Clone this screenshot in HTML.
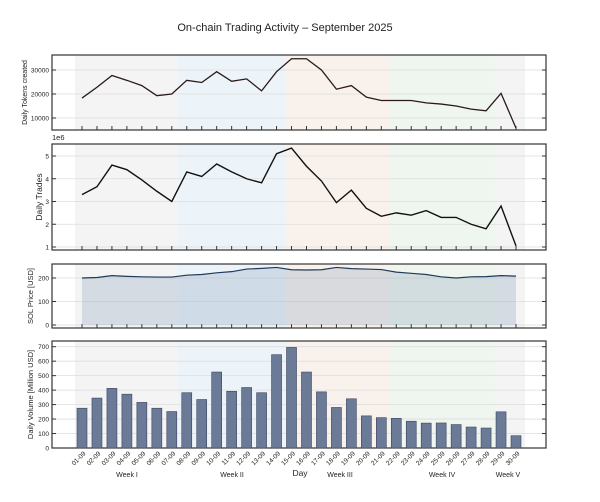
<!DOCTYPE html><html><head><meta charset="utf-8"><style>body{margin:0;background:#fff}svg{display:block}text{font-family:"Liberation Sans",sans-serif;fill:#222}</style></head><body>
<svg id="s" width="600" height="502" xmlns="http://www.w3.org/2000/svg"></svg>
<script>
const s=document.getElementById('s');let h='';
const L=52,R=546,X=i=>82+i*(434/29);
const tok=[18300,22800,27700,25700,23500,19300,20000,25700,24800,29300,25300,26300,21300,29300,34700,34700,30000,22000,23500,18700,17300,17300,17300,16300,15800,15000,13700,13000,20300,5800];
const tr=[3.3,3.65,4.6,4.4,3.95,3.45,3.0,4.3,4.1,4.65,4.3,4.0,3.82,5.1,5.35,4.55,3.9,2.95,3.5,2.7,2.35,2.5,2.4,2.6,2.3,2.3,2.0,1.8,2.8,1.05];
const pr=[200,202,210,207,205,204,204,212,215,222,227,238,241,245,235,234,235,245,240,238,236,225,220,215,205,200,205,206,210,208];
const vol=[275,345,412,372,315,275,252,382,335,525,392,418,382,645,695,525,388,280,340,222,210,205,185,172,173,162,145,138,250,85];
function bands(t,b){const bs=[[75,178,'#f4f4f4'],[178,285,'#edf4f9'],[285,390,'#f9f2ec'],[390,495,'#eff6f0'],[495,525,'#f4f4f4']];bs.forEach(c=>h+=`<rect x="${c[0]}" y="${t}" width="${c[1]-c[0]}" height="${b-t}" fill="${c[2]}"/>`);}
function panel(t,b,ticks,Y,label,ly,fs){bands(t,b);ticks.forEach(v=>{const y=Y(v);h+=`<line x1="${L}" x2="${R}" y1="${y}" y2="${y}" stroke="#ddd" stroke-width="0.8"/><line x1="${L}" x2="${L+4}" y1="${y}" y2="${y}" stroke="#333"/><line x1="${R-4}" x2="${R}" y1="${y}" y2="${y}" stroke="#333"/><text x="${L-3}" y="${y+2.5}" font-size="6.5" text-anchor="end">${v[1]}</text>`;});
for(let i=0;i<30;i++)h+=`<line x1="${X(i)}" x2="${X(i)}" y1="${b}" y2="${b-4}" stroke="#333"/>`;
h+=`<rect x="${L}" y="${t}" width="${R-L}" height="${b-t}" fill="none" stroke="#333" stroke-width="1.2"/>`;
h+=`<text transform="translate(${ly},${(t+b)/2}) rotate(-90)" font-size="${fs}" text-anchor="middle">${label}</text>`;}
h+=`<text x="285" y="31" font-size="11" text-anchor="middle">On-chain Trading Activity – September 2025</text>`;
let Y1=v=>70+(30000-v)*0.0024;
panel(55,130,[[30000,'30000'],[20000,'20000'],[10000,'10000']],a=>Y1(a[0]),'Daily Tokens created',27,7);
h+=`<polyline fill="none" stroke="#2a1a1a" stroke-width="1.3" points="${tok.map((v,i)=>X(i)+','+Y1(v)).join(' ')}"/>`;
let Y2=v=>156+(5-v)*22.75;
panel(144,250,[5,4,3,2,1].map(v=>[v,v]),a=>Y2(a[0]),'Daily Trades',42,8.5);
h+=`<text x="${L}" y="140" font-size="7.5">1e6</text>`;
h+=`<polyline fill="none" stroke="#111" stroke-width="1.4" points="${tr.map((v,i)=>X(i)+','+Y2(v)).join(' ')}"/>`;
let Y3=v=>325-v*0.235;
panel(264,328,[200,100,0].map(v=>[v,v]),a=>Y3(a[0]),'SOL Price [USD]',33,7.5);
h+=`<polygon fill="#8aa3bb" fill-opacity="0.3" points="${X(0)},${Y3(0)} ${pr.map((v,i)=>X(i)+','+Y3(v)).join(' ')} ${X(29)},${Y3(0)}"/>`;
h+=`<polyline fill="none" stroke="#1f3a5a" stroke-width="1.2" points="${pr.map((v,i)=>X(i)+','+Y3(v)).join(' ')}"/>`;
let Y4=v=>448-v*0.1447;
panel(341,448,[700,600,500,400,300,200,100,0].map(v=>[v,v]),a=>Y4(a[0]),'Daily Volume [Million USD]',33,7.5);
vol.forEach((v,i)=>h+=`<rect x="${X(i)-5}" y="${Y4(v)}" width="10" height="${448-Y4(v)}" fill="#6b7a96" stroke="#3a4560" stroke-width="0.6"/>`);
for(let i=0;i<30;i++){const d=String(i+1).padStart(2,'0')+'-09';h+=`<text transform="translate(${X(i)+4},${454}) rotate(-45)" font-size="6.5" text-anchor="end">${d}</text>`;}
[['Week I',127],['Week II',232],['Week III',340],['Week IV',442],['Week V',508]].forEach(w=>h+=`<text x="${w[1]}" y="477" font-size="7" text-anchor="middle">${w[0]}</text>`);
h+=`<text x="300" y="476" font-size="8.5" text-anchor="middle">Day</text>`;
s.innerHTML=h;
</script></body></html>
